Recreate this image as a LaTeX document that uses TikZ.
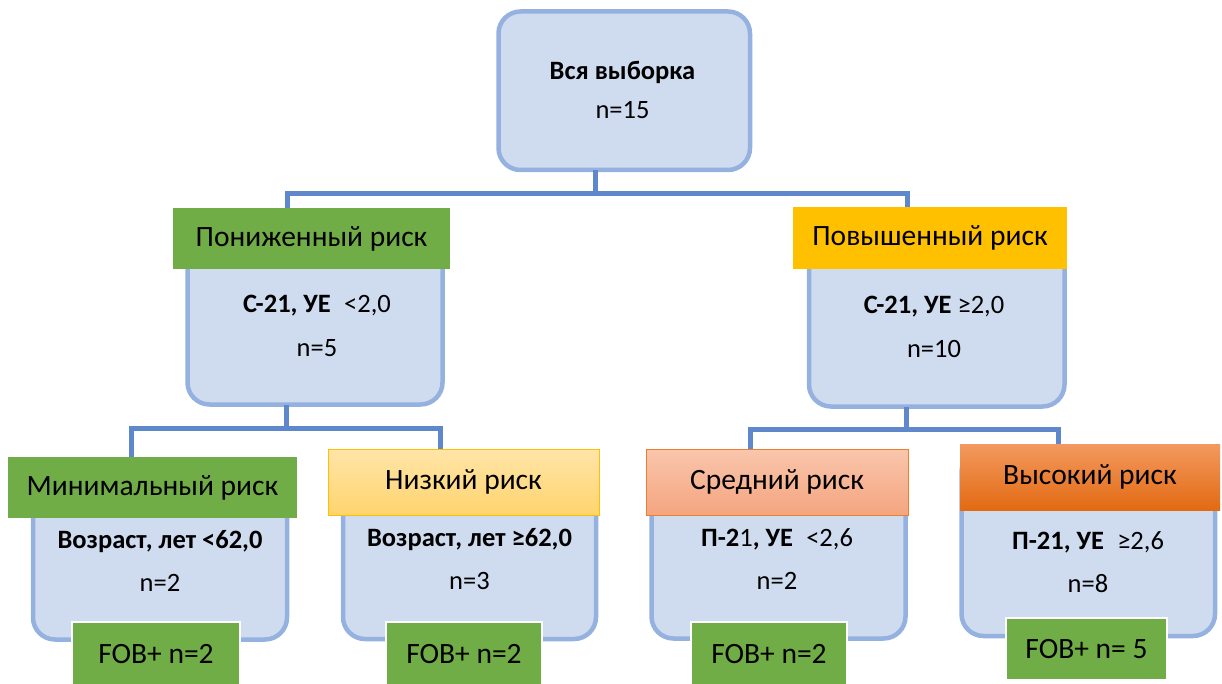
\documentclass[tikz,border=0pt]{standalone}
\usepackage{fontspec}
\setmainfont{Carlito}
\begin{document}
\begin{tikzpicture}[
    x=1pt,y=-1pt,
    font=\fontsize{26.5}{31.8}\selectfont,
    link/.style={draw=linkblue,line width=5pt},
    card/.style={draw=cardedge,fill=cardfill,line width=4.5pt,rounded corners=22pt,inner sep=0pt,outer sep=0pt,anchor=north west},
    head/.style={inner sep=0pt,outer sep=0pt,anchor=north west,font=\fontsize{29.5}{35}\selectfont},
    fob/.style={draw=white,line width=2pt,fill=riskgreen,inner sep=0pt,outer sep=0pt,anchor=north west,font=\fontsize{29.5}{35}\selectfont},
    txt/.style={align=center,inner sep=0pt}
  ]
    \definecolor{cardfill}{HTML}{CFDCF0}
    \definecolor{cardedge}{HTML}{94B1E0}
    \definecolor{linkblue}{HTML}{5F87CC}
    \definecolor{riskgreen}{HTML}{70AD47}
    \definecolor{riskamber}{HTML}{FFC000}
    \definecolor{lowtop}{HTML}{FFE5A8}
    \definecolor{lowbot}{HTML}{FFD46E}
    \definecolor{midtop}{HTML}{F9C6AC}
    \definecolor{midbot}{HTML}{F4A57F}
    \definecolor{hightop}{HTML}{F3995F}
    \definecolor{highbot}{HTML}{E26A12}
    \definecolor{midedge}{HTML}{ED7D31}
    \path[use as bounding box] (0,0) rectangle (1222,684);
    % level 0
    \node[card,minimum width=251.5pt,minimum height=158.5pt] (root) at (498.5,11.5) {};
    % level 1
    \node[card,minimum width=255pt,minimum height=190.5pt] (lowcard) at (187.5,214) {};
    \node[card,minimum width=255.5pt,minimum height=192.5pt] (highcard) at (809,214) {};
    \node[head,fill=riskgreen,minimum width=277pt,minimum height=61pt] (lowhead) at (173,208) {Пониженный риск};
    \node[head,fill=riskamber,minimum width=274pt,minimum height=62pt] (highhead) at (793,207) {Повышенный риск};
    % level 2
    \node[card,minimum width=254pt,minimum height=175.5pt] (mincard) at (33,464) {};
    \node[card,minimum width=253pt,minimum height=184pt] (lowercard) at (343,455) {};
    \node[card,minimum width=254pt,minimum height=183.5pt] (midcard) at (651.5,455) {};
    \node[card,minimum width=253.5pt,minimum height=186pt] (topcard) at (961.5,450) {};
    \node[head,fill=riskgreen,minimum width=289pt,minimum height=61pt] (minhead) at (8,457) {Минимальный риск};
    \node[head,draw=riskamber,line width=1pt,top color=lowtop,bottom color=lowbot,minimum width=271pt,minimum height=66pt] (lowerhead) at (328,449) {Низкий риск};
    \node[head,draw=midedge,line width=1pt,top color=midtop,bottom color=midbot,minimum width=262pt,minimum height=66pt] (midhead) at (646,449) {Средний риск};
    \node[head,top color=hightop,bottom color=highbot,minimum width=260pt,minimum height=66pt] (tophead) at (960,444) {Высокий риск};
    \node[fob,minimum width=168pt,minimum height=64pt] (minfob) at (72,622) {FOB+ n=2};
    \node[fob,minimum width=156pt,minimum height=64pt] (lowerfob) at (386,622) {FOB+ n=2};
    \node[fob,minimum width=156pt,minimum height=64pt] (midfob) at (691,622) {FOB+ n=2};
    \node[fob,minimum width=161pt,minimum height=62pt] (topfob) at (1006,618) {FOB+ n= 5};
    % connectors
    \coordinate (split0) at (595.5,194);
    \coordinate (split1) at (286.5,428);
    \coordinate (split2) at (906,429.5);
    \draw[link] (split0 |- root.south) -- (split0);
    \draw[link] ([xshift=-24.5pt]lowhead.north) |- (split0) -| ([xshift=-23pt]highhead.north);
    \draw[link] (split1 |- lowcard.south) -- (split1);
    \draw[link] ([xshift=-21pt]minhead.north) |- (split1) -| ([xshift=-23.5pt]lowerhead.north);
    \draw[link] (split2 |- highcard.south) -- (split2);
    \draw[link] ([xshift=-27pt]midhead.north) |- (split2) -| ([xshift=-31.5pt]tophead.north);
    % texts
    \node[txt] (roottxt) at (622.5,90) {\textbf{Вся выборка}\\[7pt]n=15};
    \node[txt] (lowtxt) at (317,326) {\textbf{С-21, УЕ}\enspace<2,0\\[13pt]n=5};
    \node[txt] (hightxt) at (934,327) {\textbf{С-21, УЕ} ≥2,0\\[13pt]n=10};
    \node[txt] (mintxt) at (160,561) {\textbf{Возраст, лет <62,0}\\[11pt]n=2};
    \node[txt] (lowertxt) at (469.5,559) {\textbf{Возраст, лет ≥62,0}\\[11pt]n=3};
    \node[txt] (midtxt) at (777,559) {\textbf{П-2}1\textbf{, УЕ}\enspace<2,6\\[11pt]n=2};
    \node[txt] (toptxt) at (1088,562) {\textbf{П-21, УЕ}\enspace≥2,6\\[11pt]n=8};
  \end{tikzpicture}
\end{document}
